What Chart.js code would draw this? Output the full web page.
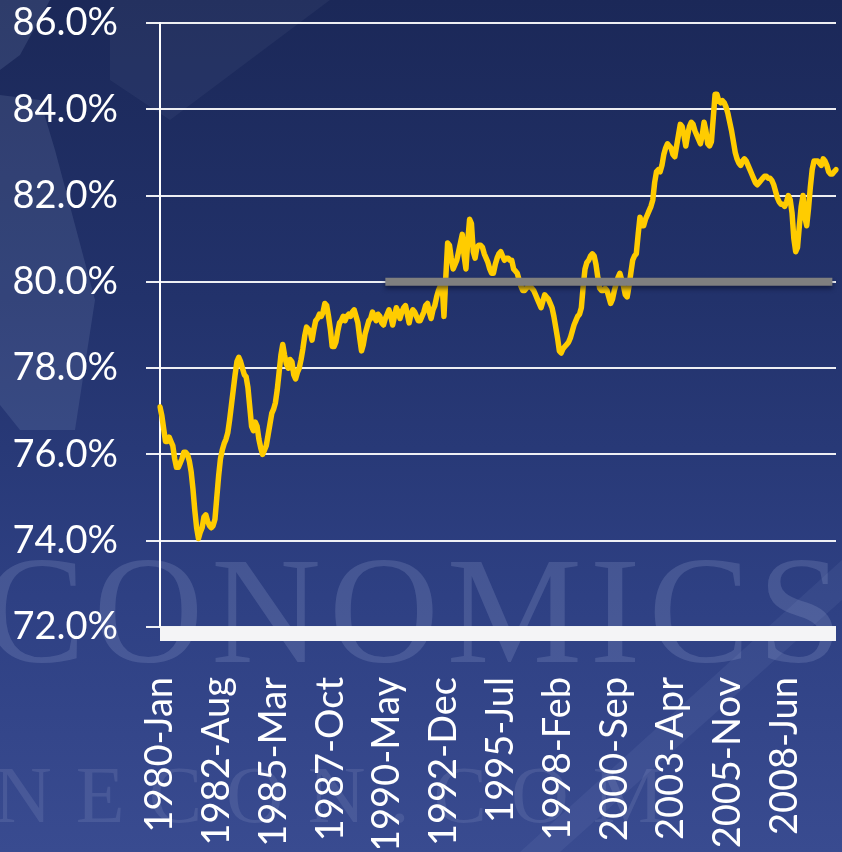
<!DOCTYPE html>
<html>
<head>
<meta charset="utf-8">
<title>Utilization 1980-2010</title>
<script src="https://cdn.jsdelivr.net/npm/chart.js@4.4.1/dist/chart.umd.min.js"></script>
<style>
html, body { margin: 0; padding: 0; }
body {
    width: 842px; height: 852px; overflow: hidden; position: relative;
    background: linear-gradient(180deg, #1b2858 0%, #22326b 35%, #2e4083 70%, #394b90 100%);
}
.wm { position: absolute; white-space: nowrap; font-family: "Liberation Serif", serif; }
#wm1 { left: -16px; top: 524px; font-size: 152px; letter-spacing: 8px; color: rgba(190, 200, 235, 0.17); }
#wm2 { left: -6px; top: 750px; font-size: 80px; letter-spacing: 24px; color: rgba(190, 200, 235, 0.13); }
.shape { position: absolute; left: 0; top: 0; width: 842px; height: 852px; background: rgba(150, 165, 205, 0.16); }
#s1 { clip-path: polygon(0 0, 50px 0, 20px 55px, 0 70px); }
#s2 { clip-path: polygon(0 95px, 40px 100px, 55px 150px, 95px 300px, 75px 430px, 20px 430px, 0 405px); }
#s3 { clip-path: polygon(110px 0, 330px 0, 170px 120px, 110px 80px); background: rgba(150, 165, 205, 0.07); }
#s4 { clip-path: polygon(842px 560px, 842px 600px, 560px 852px, 520px 852px); background: rgba(190, 200, 235, 0.07); }
#box { position: absolute; left: 0; top: 0; width: 842px; height: 852px; }
</style>
</head>
<body>
<div class="shape" id="s1"></div>
<div class="shape" id="s2"></div>
<div class="shape" id="s3"></div>
<div class="shape" id="s4"></div>
<div class="wm" id="wm1">CONOMICS</div>
<div class="wm" id="wm2">NECON.COM</div>
<div id="box"><canvas id="myChart" width="842" height="852"></canvas></div>
<script>
// monthly series, Jan 1980 onward (percent)
var values = [
    77.1, 76.9, 76.6, 76.3, 76.3, 76.4, 76.3, 76.2, 75.9, 75.7, 75.7, 75.8,         // 1980
    75.9, 76.05, 76.05, 76.0, 75.85, 75.6, 75.2, 74.7, 74.3, 74.05, 74.2, 74.3,     // 1981
    74.55, 74.6, 74.45, 74.35, 74.3, 74.35, 74.5, 75.0, 75.5, 75.9, 76.1, 76.25,    // 1982
    76.35, 76.5, 76.8, 77.15, 77.5, 77.85, 78.15, 78.25, 78.15, 78.0, 77.85, 77.8,  // 1983
    77.55, 77.1, 76.65, 76.55, 76.75, 76.65, 76.35, 76.15, 76.0, 76.1, 76.2, 76.45, // 1984
    76.7, 76.95, 77.05, 77.2, 77.5, 77.9, 78.3, 78.55, 78.3, 78.1, 78.0, 78.2,      // 1985
    78.15, 77.85, 77.75, 77.9, 78.0, 78.2, 78.45, 78.75, 78.95, 78.9, 78.85, 78.65, // 1986
    78.9, 79.1, 79.15, 79.25, 79.2, 79.3, 79.5, 79.45, 79.2, 78.9, 78.5, 78.5,      // 1987
    78.6, 78.85, 79.05, 79.1, 79.2, 79.1, 79.2, 79.25, 79.2, 79.3, 79.35, 79.2,     // 1988
    79.05, 78.7, 78.4, 78.55, 78.8, 78.95, 79.1, 79.15, 79.3, 79.2, 79.1, 79.25,    // 1989
    79.2, 79.05, 79.0, 79.15, 79.25, 79.35, 79.2, 79.0, 79.2, 79.4, 79.3, 79.15,    // 1990
    79.3, 79.4, 79.45, 79.25, 79.05, 79.25, 79.35, 79.3, 79.2, 79.1, 79.1, 79.2,    // 1991
    79.3, 79.45, 79.5, 79.3, 79.15, 79.35, 79.45, 79.65, 79.8, 79.9, 79.95, 79.2,   // 1992
    80.1, 80.9, 80.85, 80.55, 80.3, 80.4, 80.5, 80.7, 80.9, 81.1, 80.6, 80.3,       // 1993
    80.95, 81.45, 81.35, 80.7, 80.55, 80.8, 80.85, 80.85, 80.8, 80.65, 80.55, 80.45,// 1994
    80.3, 80.2, 80.2, 80.4, 80.55, 80.65, 80.7, 80.6, 80.5, 80.55, 80.55, 80.5,     // 1995
    80.5, 80.3, 80.25, 80.2, 80.05, 79.9, 79.8, 79.8, 79.85, 79.9, 79.9, 79.85,     // 1996
    79.8, 79.7, 79.6, 79.5, 79.4, 79.55, 79.7, 79.65, 79.6, 79.5, 79.4, 79.2,       // 1997
    78.95, 78.7, 78.4, 78.35, 78.45, 78.5, 78.55, 78.6, 78.7, 78.85, 79.0, 79.1,    // 1998
    79.2, 79.25, 79.4, 79.9, 80.3, 80.45, 80.5, 80.6, 80.65, 80.6, 80.4, 80.1,      // 1999
    79.85, 79.8, 79.8, 79.85, 79.8, 79.65, 79.5, 79.6, 79.8, 79.95, 80.1, 80.2,     // 2000
    80.05, 79.9, 79.7, 79.65, 79.9, 80.2, 80.5, 80.6, 80.65, 81.1, 81.5, 81.3,      // 2001
    81.3, 81.45, 81.55, 81.65, 81.75, 81.9, 82.3, 82.55, 82.6, 82.55, 82.7, 82.95,  // 2002
    83.1, 83.2, 83.15, 83.1, 82.95, 82.9, 83.15, 83.4, 83.65, 83.6, 83.4, 83.15,    // 2003
    83.4, 83.6, 83.7, 83.65, 83.5, 83.4, 83.3, 83.2, 83.4, 83.7, 83.5, 83.2,        // 2004
    83.15, 83.25, 83.8, 84.35, 84.35, 84.2, 84.15, 84.2, 84.15, 84.05, 83.9, 83.7,  // 2005
    83.5, 83.25, 83.0, 82.85, 82.75, 82.7, 82.8, 82.85, 82.8, 82.7, 82.6, 82.5,     // 2006
    82.4, 82.3, 82.25, 82.3, 82.35, 82.4, 82.45, 82.45, 82.4, 82.4, 82.35, 82.25,   // 2007
    82.1, 81.95, 81.85, 81.8, 81.8, 81.75, 81.85, 82.0, 81.9, 81.6, 81.0, 80.7,     // 2008
    80.8, 81.3, 81.75, 82.0, 81.5, 81.3, 81.7, 82.2, 82.6, 82.8, 82.8, 82.8,        // 2009
    82.75, 82.7, 82.85, 82.8, 82.7, 82.55, 82.5, 82.5, 82.55, 82.6                  // 2010
];

var tickLabels = ['1980-Jan', '1982-Aug', '1985-Mar', '1987-Oct', '1990-May', '1992-Dec',
                  '1995-Jul', '1998-Feb', '2000-Sep', '2003-Apr', '2005-Nov', '2008-Jun'];

// 80% reference line
var refLevel = 80;
var refFrom = '1990-Apr';
var refTo = '2010-Aug';

var monthNames = ['Jan', 'Feb', 'Mar', 'Apr', 'May', 'Jun', 'Jul', 'Aug', 'Sep', 'Oct', 'Nov', 'Dec'];
var months = [];
for (var y = 1980; months.length < values.length; y++) {
    for (var m = 0; m < 12 && months.length < values.length; m++) {
        months.push(y + '-' + monthNames[m]);
    }
}

var i0 = months.indexOf(refFrom);
var i1 = months.indexOf(refTo);
var refLine = months.map(function(lbl, i) {
    return (i >= i0 && i <= i1) ? refLevel : null;
});

// thick white base under the plot + soft shadow for the reference line
var decor = {
    id: 'decor',
    beforeDatasetsDraw: function(chart) {
        var a = chart.chartArea;
        var ctx = chart.ctx;
        ctx.save();
        ctx.fillStyle = '#f4f4f6';
        ctx.fillRect(a.left, a.bottom, a.right - a.left, 14);
        ctx.restore();
    },
    beforeDatasetDraw: function(chart, args) {
        if (args.index === 0) {
            chart.ctx.save();
            chart.ctx.shadowColor = 'rgba(10, 15, 40, 0.55)';
            chart.ctx.shadowOffsetY = 3;
            chart.ctx.shadowBlur = 4;
        }
    },
    afterDatasetDraw: function(chart, args) {
        if (args.index === 0) chart.ctx.restore();
    }
};

function chartCreate() {
    const data = {
        labels: months,
        datasets: [{
            label: 'ref',
            data: refLine,
            borderColor: '#7f7f7f',
            borderWidth: 8,
            pointRadius: 0,
            order: 0
        }, {
            label: 'series',
            data: values,
            borderColor: '#ffcc00',
            borderWidth: 5.5,
            borderJoinStyle: 'round',
            borderCapStyle: 'round',
            pointRadius: 0,
            tension: 0,
            order: 1
        }]
    };
    const config = {
        type: 'line',
        data: data,
        plugins: [decor],
        options: {
            responsive: false,
            animation: false,
            layout: { autoPadding: false, padding: { left: 12, right: 6, top: 23, bottom: 4 } },
            plugins: { legend: { display: false }, tooltip: { enabled: false } },
            scales: {
                x: {
                    grid: { display: false, drawTicks: false },
                    border: { display: false },
                    afterFit: function(s) {
                        s.height = 221;
                        s.paddingLeft = 0;
                        s.paddingRight = 0;
                    },
                    ticks: {
                        autoSkip: false,
                        minRotation: 90,
                        maxRotation: 90,
                        padding: 50,
                        color: '#ffffff',
                        font: { family: 'Lato', size: 38 },
                        callback: function(v, i) {
                            var lbl = months[i];
                            return tickLabels.indexOf(lbl) >= 0 ? lbl : null;
                        }
                    }
                },
                y: {
                    min: 72,
                    max: 86,
                    grid: { color: 'rgba(255,255,255,0.92)', lineWidth: 2, tickLength: 14 },
                    border: { color: '#ffffff', width: 2 },
                    afterFit: function(s) {
                        s.width = 148;
                        s.paddingTop = 0;
                        s.paddingBottom = 0;
                    },
                    ticks: {
                        stepSize: 2,
                        padding: 28,
                        color: '#ffffff',
                        font: { family: 'Lato', size: 38 },
                        callback: function(v) { return v.toFixed(1) + '%'; }
                    }
                }
            }
        }
    };
    const myChart = new Chart(document.getElementById('myChart'), config);
}

document.fonts.load('38px Lato').then(chartCreate, chartCreate);
</script>
</body>
</html>
